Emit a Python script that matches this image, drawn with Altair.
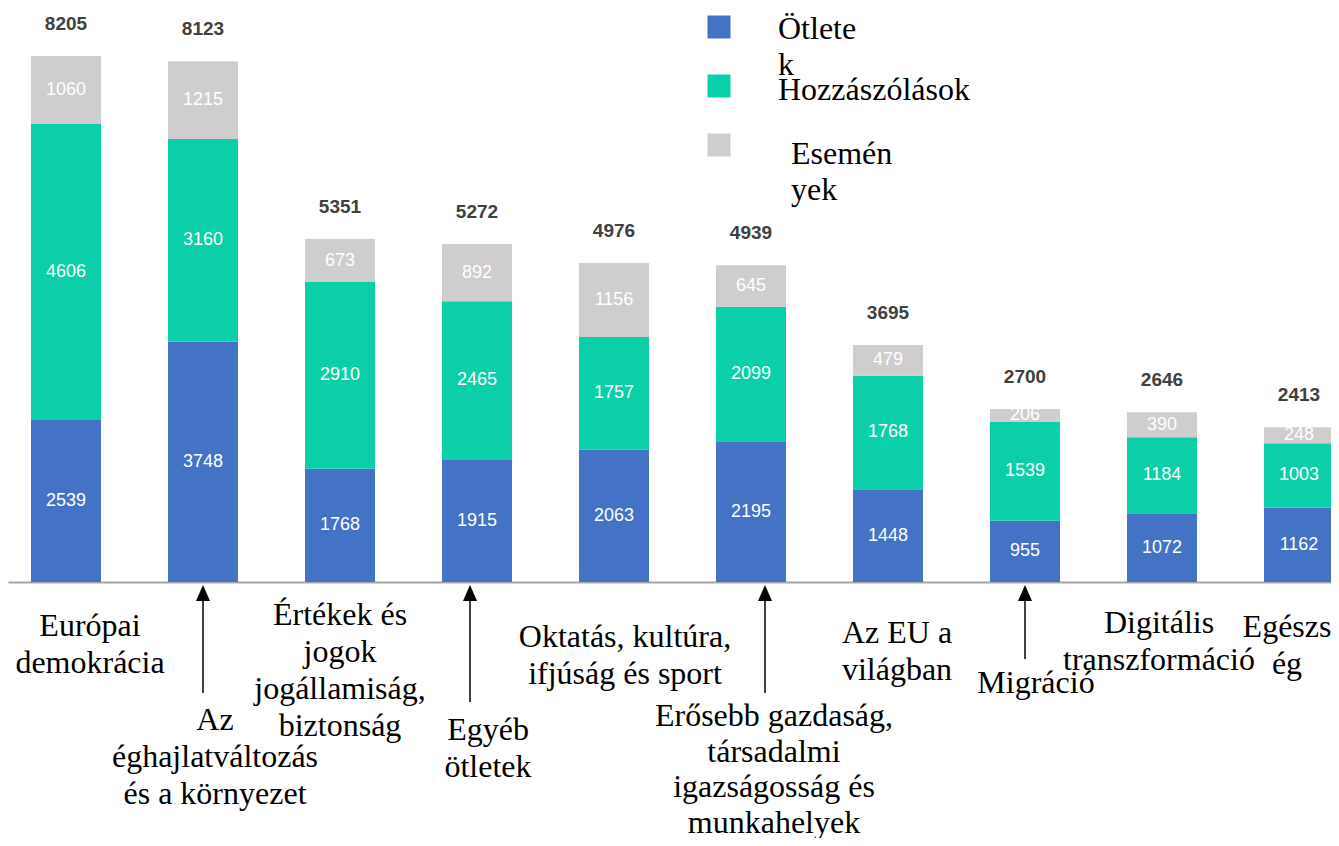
import altair as alt
import pandas as pd

# ---------------- data ----------------
categories = [
    "Európai demokrácia",
    "Az éghajlatváltozás és a környezet",
    "Értékek és jogok jogállamiság, biztonság",
    "Egyéb ötletek",
    "Oktatás, kultúra, ifjúság és sport",
    "Erősebb gazdaság, társadalmi igazságosság és munkahelyek",
    "Az EU a világban",
    "Migráció",
    "Digitális transzformáció",
    "Egészség",
]
category_labels = [
    "Európai\ndemokrácia",
    "Az\néghajlatváltozás\nés a környezet",
    "Értékek és\njogok\njogállamiság,\nbiztonság",
    "Egyéb\nötletek",
    "Oktatás, kultúra,\nifjúság és sport",
    "Erősebb gazdaság,\ntársadalmi\nigazságosság és\nmunkahelyek",
    "Az EU a\nvilágban",
    "Migráció",
    "Digitális\ntranszformáció",
    "Egészs\nég",
]
otletek = [2539, 3748, 1768, 1915, 2063, 2195, 1448, 955, 1072, 1162]
hozzaszolasok = [4606, 3160, 2910, 2465, 1757, 2099, 1768, 1539, 1184, 1003]
esemenyek = [1060, 1215, 673, 892, 1156, 645, 479, 206, 390, 248]
totals = [8205, 8123, 5351, 5272, 4976, 4939, 3695, 2700, 2646, 2413]

series_names = ["Ötletek", "Hozzászólások", "Események"]
legend_labels = ["Ötlete\nk", "Hozzászólások", "Esemén\nyek"]
arrow_categories = [1, 3, 5, 7]

# ---------------- styling / layout ----------------
colors = ["#4472C4", "#0BCFA8", "#CFCDCE"]
W, H = 1323, 574
X_DOMAIN = [-58 / 137, -58 / 137 + W / 137]
Y_DOMAIN = [0, 8953]
SERIF = "Liberation Serif"
SANS = "Liberation Sans"

rows = []
for i, cat in enumerate(categories):
    for k, (name, vals) in enumerate(zip(series_names, [otletek, hozzaszolasok, esemenyek])):
        rows.append({"cat": cat, "idx": i, "series": name, "order": k, "value": vals[i]})
long_df = pd.DataFrame(rows)
tot_df = pd.DataFrame({"cat": categories, "idx": list(range(len(categories))), "total": totals})
lab_df = pd.DataFrame({"idx": list(range(len(categories))), "label": category_labels})
leg_df = pd.DataFrame({"series": series_names, "label": legend_labels})

xs = alt.X("idx:Q", scale=alt.Scale(domain=X_DOMAIN, nice=False, zero=False, padding=0),
           axis=alt.Axis(labels=False, ticks=False, grid=False, title=None,
                         domainColor="#A6A6A6", domainWidth=2))
ys = alt.Y("value:Q", stack="zero", scale=alt.Scale(domain=Y_DOMAIN, nice=False, padding=0), axis=None)
color = alt.Color("series:N", scale=alt.Scale(domain=series_names, range=colors), legend=None)

bars = alt.Chart(long_df).mark_bar(size=70).encode(
    x=xs, y=ys, color=color, order=alt.Order("order:Q")
)

seg_text = alt.Chart(long_df).transform_stack(
    stack="value", groupby=["idx"], as_=["v0", "v1"], sort=[alt.SortField("order")]
).transform_calculate(mid="(datum.v0 + datum.v1) / 2").mark_text(
    color="white", fontSize=18, font=SANS, baseline="middle"
).encode(
    x="idx:Q", y=alt.Y("mid:Q"), text="value:Q"
)

tot_text = alt.Chart(tot_df).mark_text(
    color="#404040", fontSize=19, font=SANS, fontWeight="bold", baseline="middle", dy=-32
).encode(x="idx:Q", y=alt.Y("total:Q"), text="total:Q")

layers = [bars, seg_text, tot_text]

# category labels below the axis (page coordinates - 8)
label_dx = [24, 12, 0, 11, 11, 23, 9, 11, -3, -12]
label_base = [636, 730, 625, 740, 647, 726, 643, 693, 633, 637]
label_lh = [37, 37, 37, 37, 37, 35.5, 37, 37, 37, 37]
for i in range(len(categories)):
    layers.append(
        alt.Chart(lab_df).transform_filter(alt.datum.idx == i).mark_text(
            font=SERIF, fontSize=32, lineBreak="\n", lineHeight=label_lh[i], align="center",
            baseline="alphabetic", color="black", dx=label_dx[i]
        ).encode(x="idx:Q", y=alt.value(label_base[i] - 8), text="label:N")
    )

# arrows
arrow_dx = [0, -7, 14, 0]
arrow_bottom = [693, 702, 693, 659]
for j, ci in enumerate(arrow_categories):
    layers.append(
        alt.Chart(lab_df).transform_filter(alt.datum.idx == ci).mark_rule(
            color="black", strokeWidth=1.5, xOffset=arrow_dx[j]
        ).encode(x="idx:Q", y=alt.value(598 - 8), y2=alt.value(arrow_bottom[j] - 8))
    )
    layers.append(
        alt.Chart(lab_df).transform_filter(alt.datum.idx == ci).mark_point(
            shape="M-0.875,1L0,-1L0.875,1Z", filled=True, color="black", opacity=1,
            size=256, xOffset=arrow_dx[j]
        ).encode(x="idx:Q", y=alt.value(593 - 8))
    )

# legend
sq_y = [27, 86, 145]
txt_x = [778, 778, 791]
txt_base = [39, 100, 164]
for k, name in enumerate(series_names):
    layers.append(
        alt.Chart(leg_df).transform_filter(alt.datum.series == name).mark_square(
            size=529, filled=True, opacity=1
        ).encode(x=alt.value(719 - 8), y=alt.value(sq_y[k] - 8), color=color)
    )
    layers.append(
        alt.Chart(leg_df).transform_filter(alt.datum.series == name).mark_text(
            font=SERIF, fontSize=32, lineBreak="\n", lineHeight=36, align="left",
            baseline="alphabetic", color="black"
        ).encode(x=alt.value(txt_x[k] - 8), y=alt.value(txt_base[k] - 8), text="label:N")
    )

chart = alt.layer(*layers).properties(
    width=W, height=H,
    autosize=alt.AutoSizeParams(type="none"),
    padding={"left": 0, "top": 0, "right": 0, "bottom": 256},
).configure_view(stroke=None)

chart.save("out.html", embed_options={"renderer": "svg", "actions": False})
